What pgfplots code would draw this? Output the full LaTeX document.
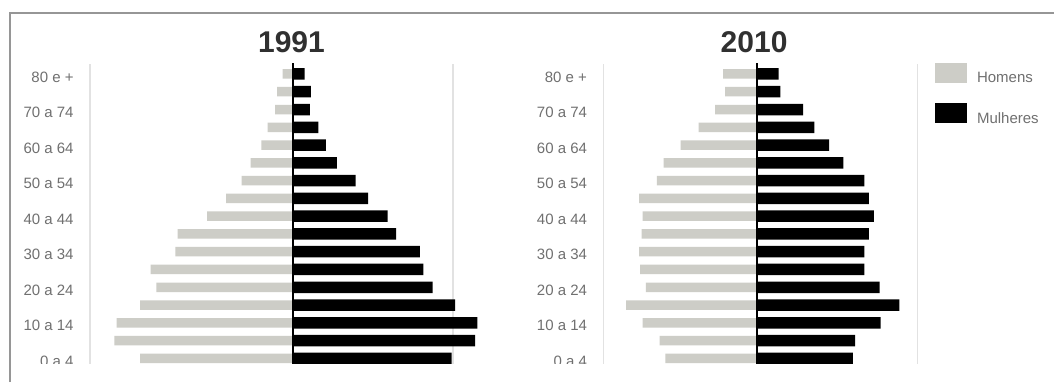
\documentclass[border=0pt]{standalone}
\usepackage{fontspec}
\setmainfont{Liberation Sans}
\usepackage{pgfplots}
\pgfplotsset{compat=1.18}
\usepackage{pgfplotstable}

\definecolor{barGray}{RGB}{205,205,199}
\definecolor{gridGray}{RGB}{226,226,226}
\definecolor{frameGray}{RGB}{150,150,150}
\definecolor{labelGray}{RGB}{112,112,112}
\definecolor{titleGray}{RGB}{48,48,48}

% row: 0 = "0 a 4", ..., 16 = "80 e +"; men plotted to the left (negative)
\pgfplotstableread{
row men women
0  -153.0 158.7
1  -178.7 182.0
2  -176.3 184.3
3  -153.0 162.0
4  -136.6 139.5
5  -142.4 130.3
6  -117.6 126.8
7  -115.5 103.2
8  -85.8  94.7
9  -66.8  75.0
10 -51.5  62.5
11 -42.4  43.9
12 -31.6  32.8
13 -25.5  25.3
14 -18.0  16.8
15 -16.0  17.8
16 -10.3  11.7
}\dataA

\pgfplotstableread{
row men women
0  -91.9  95.7
1  -97.7  98.0
2  -114.7 123.5
3  -131.0 142.2
4  -111.3 122.5
5  -117.1 107.2
6  -118.1 107.2
7  -115.7 111.6
8  -114.7 116.7
9  -118.1 111.6
10 -100.4 107.2
11 -93.6  86.1
12 -76.6  71.8
13 -58.5  57.2
14 -42.2  45.9
15 -32.0  23.2
16 -34.0  21.4
}\dataB

\pgfplotsset{
  pyr/.style={
    scale only axis,
    height=152.15pt,
    ymin=-0.56, ymax=16.56,
    axis line style={draw=none},
    xtick=\empty,
    ytick={0,2,...,16},
    yticklabels={0 a 4,10 a 14,20 a 24,30 a 34,40 a 44,50 a 54,60 a 64,70 a 74,80 e +},
    major tick length=0pt,
    tick style={draw=none},
    yticklabel style={font=\fontsize{7.5}{9}\selectfont, text=labelGray,
      anchor=east, inner sep=0pt, xshift=-8pt, yshift=-1.5pt},
    title style={font=\fontsize{15}{18}\selectfont\bfseries, text=titleGray,
      anchor=center, yshift=5pt},
    clip=false,
  },
  menbar/.style={xbar, bar shift=0pt, bar width=4.75pt, fill=barGray, draw=none,
    legend image code/.code={\fill[barGray] (0pt,-2pt) rectangle (16pt,8pt);}},
  womenbar/.style={xbar, bar shift=0pt, bar width=5.75pt, fill=black, draw=none,
    legend image code/.code={\fill[black] (0pt,-2pt) rectangle (16pt,8pt);}},
}

\begin{document}
\begin{tikzpicture}
\useasboundingbox (0pt,0pt) rectangle (527pt,191pt);
\fill[white] (0pt,0pt) rectangle (527pt,191pt);

\begin{scope}
\clip (0pt,9.5pt) rectangle (527pt,191pt);

\begin{axis}[pyr,
  at={(45pt,6.85pt)}, anchor=south west,
  width=181.5pt,
  xmin=-203, xmax=160,
  title={1991},
  title style={at={(0.555,1)}},
]
\draw[gridGray, line width=0.6pt] (rel axis cs:0,0) -- (rel axis cs:0,1);
\draw[gridGray, line width=0.6pt] (rel axis cs:1,0) -- (rel axis cs:1,1);
\addplot[menbar] table[x=men, y=row] {\dataA};
\addplot[womenbar] table[x=women, y=row] {\dataA};
\draw[black, line width=1pt] (axis cs:0,16.6) -- (axis cs:0,-0.6);
\end{axis}

\begin{axis}[pyr,
  at={(301.7pt,6.85pt)}, anchor=south west,
  width=156.95pt,
  xmin=-153.8, xmax=160.1,
  title={2010},
  title style={at={(0.48,1)}},
  legend cell align=left,
  legend style={at={(1.0564,1.0043)}, anchor=north west, draw=none, fill=none,
    inner sep=0pt, outer sep=0pt, row sep=8.9pt, column sep=5pt,
    font=\fontsize{7.5}{9}\selectfont, text=labelGray,
    nodes={inner sep=0pt}},
]
\draw[gridGray, line width=0.6pt] (rel axis cs:0,0) -- (rel axis cs:0,1);
\draw[gridGray, line width=0.6pt] (rel axis cs:1,0) -- (rel axis cs:1,1);
\addplot[menbar] table[x=men, y=row] {\dataB};
\addlegendentry{Homens}
\addplot[womenbar] table[x=women, y=row] {\dataB};
\addlegendentry{Mulheres}
\draw[black, line width=1pt] (axis cs:0,16.6) -- (axis cs:0,-0.6);
\end{axis}
\end{scope}

\draw[frameGray, line width=1.2pt] (5pt,0pt) -- (5pt,184.5pt) -- (527pt,184.5pt);
\end{tikzpicture}
\end{document}
